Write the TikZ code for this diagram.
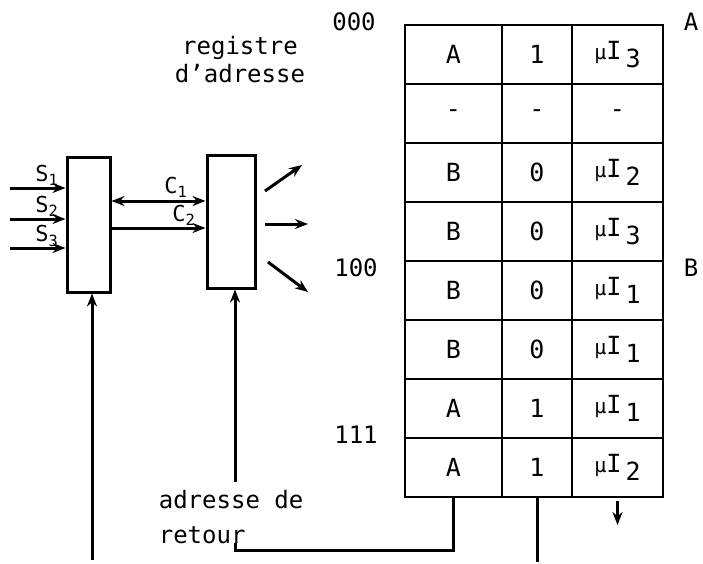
\documentclass[tikz,border=0pt]{standalone}
\usepackage{fontspec}
\setmainfont{DejaVu Sans Mono}
\usetikzlibrary{arrows.meta, positioning}
\newcommand{\muI}[1]{{\fontsize{20}{20}\selectfont µ}I\kern4pt\raisebox{-8pt}{#1}}

\begin{document}
\begin{tikzpicture}[x=1pt, y=-1pt, line width=3pt, >={Stealth[length=13pt,width=10pt]},
    cell/.style={draw, line width=2.6pt, minimum height=59pt, inner sep=0pt,
                 outer sep=0pt, font=\fontsize{25}{28}\selectfont},
    selcell/.style={cell, minimum width=97pt},
    bitcell/.style={cell, minimum width=70pt},
    miccell/.style={cell, minimum width=91pt},
    blk/.style={draw, line width=3pt, inner sep=0pt},
    lbl/.style={font=\fontsize{24}{28}\selectfont},
    hand/.style={font=\fontsize{22}{22}\selectfont}
]
    \useasboundingbox (0,0) rectangle (703,563);

    % memoire de sequencement
    \node[selcell] (sel1) at (453.5,54.5) {A};
    \node[bitcell, right=0pt of sel1] (bit1) {1};
    \node[miccell, right=0pt of bit1] (mic1) {\muI{3}};
    \node[selcell, below=0pt of sel1] (sel2) {-};
    \node[bitcell, right=0pt of sel2] (bit2) {-};
    \node[miccell, right=0pt of bit2] (mic2) {-};
    \node[selcell, below=0pt of sel2] (sel3) {B};
    \node[bitcell, right=0pt of sel3] (bit3) {0};
    \node[miccell, right=0pt of bit3] (mic3) {\muI{2}};
    \node[selcell, below=0pt of sel3] (sel4) {B};
    \node[bitcell, right=0pt of sel4] (bit4) {0};
    \node[miccell, right=0pt of bit4] (mic4) {\muI{3}};
    \node[selcell, below=0pt of sel4] (sel5) {B};
    \node[bitcell, right=0pt of sel5] (bit5) {0};
    \node[miccell, right=0pt of bit5] (mic5) {\muI{1}};
    \node[selcell, below=0pt of sel5] (sel6) {B};
    \node[bitcell, right=0pt of sel6] (bit6) {0};
    \node[miccell, right=0pt of bit6] (mic6) {\muI{1}};
    \node[selcell, below=0pt of sel6] (sel7) {A};
    \node[bitcell, right=0pt of sel7] (bit7) {1};
    \node[miccell, right=0pt of bit7] (mic7) {\muI{1}};
    \node[selcell, below=0pt of sel7] (sel8) {A};
    \node[bitcell, right=0pt of sel8] (bit8) {1};
    \node[miccell, right=0pt of bit8] (mic8) {\muI{2}};

    \node[lbl] (adr000) at (354,22) {000};
    \node[lbl] (adr100) at (356,268) {100};
    \node[lbl] (adr111) at (356,435) {111};
    \node[lbl] (segA) at (691,22) {A};
    \node[lbl] (segB) at (691,268) {B};

    % multiplexeur et registre
    \node[blk, minimum width=43pt, minimum height=135pt] (mux) at (88.5,224.5) {};
    \node[blk, minimum width=48pt, minimum height=133pt] (reg) at (231,221.5) {};
    \node[lbl, align=center] (regname) at (240,60) {registre\\d'adresse};

    \coordinate (s1) at (10,188);
    \coordinate (s2) at (10,219);
    \coordinate (s3) at (10,248);
    \draw[->] (s1) -- (s1 -| mux.west);
    \draw[->] (s2) -- (s2 -| mux.west);
    \draw[->] (s3) -- (s3 -| mux.west);
    \node[hand] (s1lbl) at (47,175) {S\textsubscript{1}};
    \node[hand] (s2lbl) at (47,206) {S\textsubscript{2}};
    \node[hand] (s3lbl) at (47,236) {S\textsubscript{3}};

    \coordinate (c1) at (0,201);
    \coordinate (c2) at (0,228);
    \draw[<->] (c1 -| mux.east) -- (c1 -| reg.west);
    \draw[->] (c2 -| mux.east) -- (c2 -| reg.west);
    \node[hand] (c1lbl) at (176,187) {C\textsubscript{1}};
    \node[hand] (c2lbl) at (184,215) {C\textsubscript{2}};

    \coordinate (o1) at (265,191);
    \coordinate (o2) at (265,224);
    \coordinate (o3) at (268,262);
    \draw[->] (o1) -- ++(37,-26);
    \draw[->] (o2) -- ++(43,0);
    \draw[->] (o3) -- ++(40,30);

    % retour
    \coordinate (in1) at (92,560);
    \draw[->] (in1) -- (in1 |- mux.south);
    \node[lbl, align=left, anchor=north west, font=\fontsize{24}{35}\selectfont]
        (ret) at (154,485) {adresse de\\retour};
    \coordinate (rin) at (235,482);
    \draw[->] (rin) -- (rin |- reg.south);
    \coordinate (rt) at (235,550);
    \draw (sel8.south) |- (rt) -- ++(0,-7);
    \draw (bit8.south) -- ++(0,65);
    \draw[->] ([yshift=-4pt]mic8.south) -- ++(0,24);
\end{tikzpicture}
\end{document}
